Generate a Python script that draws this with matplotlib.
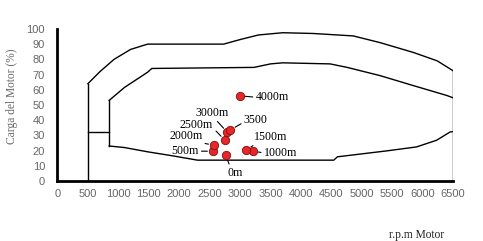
import numpy as np
import matplotlib.pyplot as plt

# #############################################################################
# Envelope of the engine operating area (rpm, load %)
outer_rpm = [500, 700, 930, 1200, 1480, 2730, 3000, 3300, 3700, 4200, 4860, 5300, 5850, 6240, 6400, 6500]
outer_load = [64, 72, 80, 86.5, 90, 90, 93, 96, 97.5, 97, 95.4, 91, 84.5, 79, 75, 72.5]

inner_rpm = [850, 1100, 1480, 1550, 3230, 3500, 3700, 4480, 4760, 5300, 5850, 6400, 6500]
inner_load = [53, 61.5, 71.5, 74, 74.7, 77, 77.7, 77, 74.7, 69.3, 62.7, 56.2, 54.7]

lower_rpm = [850, 1100, 1480, 1900, 2300, 4540, 4600, 5410, 5900, 6230, 6450, 6500]
lower_load = [23, 22, 19.2, 16.5, 13.7, 13.7, 15.9, 19.8, 22.4, 26.8, 32.2, 32.5]

idle_rpm = 500
idle_load = 32
inner_start_rpm = 850
max_rpm = 6500

# Operating points by altitude
alt_labels = ['0m', '500m', '1000m', '1500m', '2000m', '2500m', '3000m', '3500', '4000m']
alt_rpm = [2762, 2554, 3210, 3101, 2570, 2751, 2790, 2840, 2992]
alt_load = [17, 19.6, 19.6, 20.3, 23.5, 26.8, 32, 33.5, 56]

# label anchor positions (data coords) and where the leader leaves the text
lab_x = [2800, 1872, 3390, 3226, 1833, 2013, 2259, 3062, 3254]
lab_y = [5.4, 19.6, 18.5, 29, 29.4, 37.1, 44.9, 40.3, 55.1]
lab_rel = [(0.15, 1), (1, 0.5), (0, 0.5), (0.1, 0), (0.9, 0), (1, 0.2), (0.6, 0), (0, 0.3), (0, 0.5)]

# #############################################################################
# Plot
fig = plt.figure(figsize=(4.83, 2.41), dpi=100)
ax = fig.add_axes([0.119, 0.249, 0.819, 0.631])

lw = 1.0
ax.plot(outer_rpm, outer_load, color='black', lw=lw)
ax.plot(inner_rpm, inner_load, color='black', lw=lw)
ax.plot(lower_rpm, lower_load, color='black', lw=lw)
ax.plot([idle_rpm, idle_rpm], [0, outer_load[0]], color='black', lw=lw)
ax.plot([idle_rpm, inner_start_rpm], [idle_load, idle_load], color='black', lw=lw)
ax.plot([inner_start_rpm, inner_start_rpm], [lower_load[0], inner_load[0]], color='black', lw=lw)
ax.plot([max_rpm, max_rpm], [0, outer_load[-1]], color='black', lw=lw)

ax.plot(alt_rpm, alt_load, 'o', ls='none', color='#e8262a', mec='#7a1010',
        mew=0.6, ms=6, zorder=5)

for i in range(len(alt_labels)):
    ax.annotate(alt_labels[i], xy=(alt_rpm[i], alt_load[i]), xytext=(lab_x[i], lab_y[i]),
                fontsize=8.6, family='Liberation Serif', va='center', ha='left',
                arrowprops=dict(arrowstyle='-', color='black', lw=0.8,
                                shrinkA=0, shrinkB=4, relpos=lab_rel[i]))

ax.set_xlim(0, 6500)
ax.set_ylim(0, 100)
ax.set_xticks(np.arange(0, 6501, 500))
ax.set_yticks(np.arange(0, 101, 10))
ax.tick_params(length=0, labelsize=8, labelcolor='#666666')
ax.tick_params(axis='y', pad=9)
ax.tick_params(axis='x', pad=6)
for lab in ax.get_xticklabels() + ax.get_yticklabels():
    lab.set_family('Liberation Sans')

for s in ['top', 'right']:
    ax.spines[s].set_visible(False)
for s in ['left', 'bottom']:
    ax.spines[s].set_linewidth(2)

fig.text(0.025, 0.60, 'Carga del Motor (%)', rotation=90, ha='center', va='center',
         family='Liberation Serif', fontsize=8.3, color='#666666')
fig.text(0.863, 0.025, 'r.p.m Motor', ha='center', va='center',
         family='Liberation Serif', fontsize=8.3, color='#222222')

plt.savefig('out.png', dpi=100)
